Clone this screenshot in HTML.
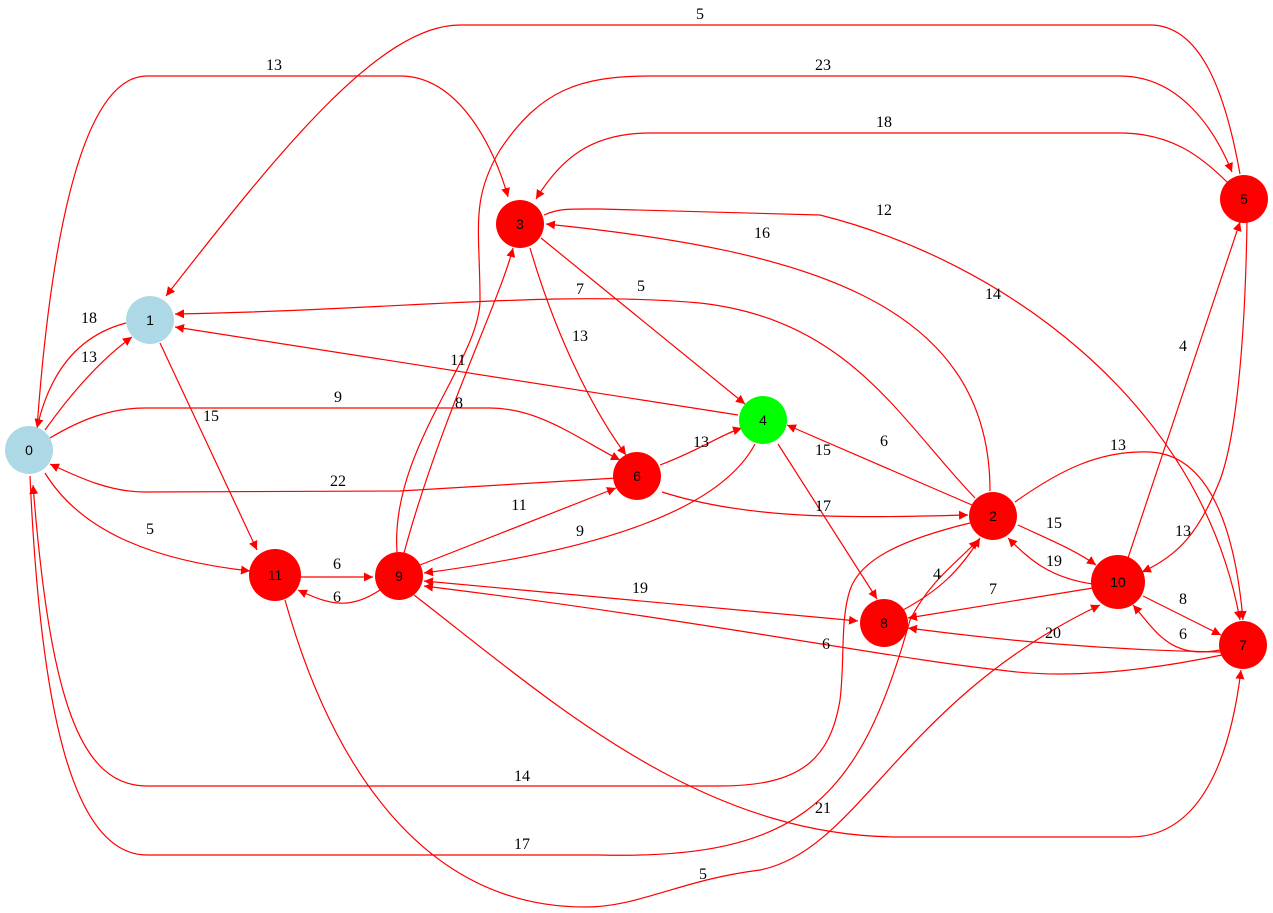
<!DOCTYPE html>
<html><head><meta charset="utf-8"><style>
html,body{margin:0;padding:0;background:#fff;}
svg{display:block}
.e{fill:none;stroke:#ff0000;stroke-width:1.2}
.l{font-family:"Liberation Serif",serif;font-size:16px;fill:#000;text-anchor:middle}
.n{font-family:"Liberation Sans",sans-serif;font-size:14px;fill:#000;text-anchor:middle}
</style></head><body>
<svg width="1273" height="913" viewBox="0 0 1273 913" xmlns="http://www.w3.org/2000/svg">
<defs>
<marker id="a" viewBox="0 0 10 10" refX="10" refY="5" markerWidth="9" markerHeight="9" markerUnits="userSpaceOnUse" orient="auto"><path d="M0,0 L10,5 L0,10 z" fill="#ff0000"/></marker>
<marker id="s" viewBox="0 0 10 10" refX="10" refY="5" markerWidth="9" markerHeight="9" markerUnits="userSpaceOnUse" orient="auto-start-reverse"><path d="M0,0 L10,5 L0,10 z" fill="#ff0000"/></marker>
</defs>
<g class="e" marker-end="url(#a)">
<path d="M37,428 C50,250 80,76 147,76 L400,76 C460,76 495,150 508,197"/>
<path d="M1240,174 C1225,90 1200,25 1150,25 L460,25 C380,25 280,150 166,296"/>
<path d="M397,552 C390,450 480,360 480,300 C480,230 470,200 500,150 C540,90 580,76 650,76 L1120,76 C1180,76 1215,130 1232,172"/>
<path d="M1228,183 C1200,155 1170,133 1120,133 L650,133 C590,133 560,160 536,199"/>
<path d="M544,215 C560,208 570,209 600,209 L820,215 C1000,260 1200,400 1240,620"/>
<path d="M990,491 C990,300 800,250 546,224"/>
<path d="M541,238 L745,404"/>
<path d="M530,248 C560,350 600,420 626,455"/>
<path d="M975,498 C900,420 850,320 700,303 C550,290 400,310 175,314"/>
<path d="M738,415 L175,327"/>
<path d="M126,323 C80,335 50,370 37,428"/>
<path d="M45,430 C70,395 100,360 132,337"/>
<path d="M160,343 L257,550"/>
<path d="M50,438 C80,420 110,408 145,408 L490,408 C540,408 580,440 620,460"/>
<path d="M617,478 L400,491 L145,492 C110,492 80,478 50,464"/>
<path d="M45,473 C80,530 150,560 250,571"/>
<path d="M660,465 C700,450 720,435 742,428"/>
<path d="M755,444 C720,510 600,550 424,573"/>
<path d="M778,444 L877,599"/>
<path d="M972,505 L787,425"/>
<path d="M662,492 C750,520 850,518 968,515"/>
<path d="M420,565 L616,488"/>
<path d="M404,553 C440,420 500,300 513,248"/>
<path d="M1015,502 C1060,470 1100,450 1150,452 C1210,455 1235,530 1243,620"/>
<path d="M1018,525 C1050,540 1075,550 1096,565"/>
<path d="M1093,584 C1050,578 1030,560 1008,538"/>
<path d="M1128,558 L1240,222"/>
<path d="M1247,222 C1245,350 1235,440 1220,480 C1200,530 1180,555 1142,572"/>
<path d="M1143,596 L1221,635"/>
<path d="M1220,650 C1170,660 1155,630 1133,605"/>
<path d="M1220,652 C1100,650 1000,640 908,628"/>
<path d="M1093,588 L908,618"/>
<path d="M903,610 C940,590 960,570 980,538"/>
<path d="M970,523 C900,540 860,560 850,590 C840,620 845,660 840,700 C830,760 800,786 720,786 L147,786 C80,786 50,700 33,485"/>
<path d="M30,476 C40,700 70,855 147,855 L600,855 C800,860 860,800 910,620 C930,580 960,560 978,540"/>
<path d="M297,577 L373,577"/>
<path d="M380,590 C350,610 330,605 298,590"/>
<path d="M424,581 L858,621" marker-start="url(#s)"/>
<path d="M1222,655 C1150,670 1070,680 1000,670 C900,660 700,620 424,586"/>
<path d="M414,595 C550,700 700,837 900,837 L1130,837 C1200,837 1230,760 1241,670"/>
<path d="M285,600 C330,760 420,907 585,907 C640,907 680,880 760,870 C860,850 900,700 1100,605"/>
</g>
<g class="l">
<text x="274" y="70">13</text><text x="700" y="19">5</text><text x="823" y="70">23</text><text x="884" y="127">18</text>
<text x="884" y="215">12</text><text x="762" y="238">16</text><text x="641" y="291">5</text><text x="580" y="341">13</text>
<text x="580" y="294">7</text><text x="993" y="299">14</text><text x="458" y="365">11</text><text x="89" y="323">18</text>
<text x="89" y="362">13</text><text x="211" y="421">15</text><text x="338" y="402">9</text><text x="338" y="486">22</text>
<text x="701" y="447">13</text><text x="580" y="536">9</text><text x="823" y="455">15</text><text x="884" y="446">6</text>
<text x="823" y="511">17</text><text x="519" y="510">11</text><text x="459" y="408">8</text><text x="1118" y="450">13</text>
<text x="1054" y="528">15</text><text x="1054" y="566">19</text><text x="1183" y="351">4</text><text x="1183" y="536">13</text>
<text x="1183" y="604">8</text><text x="1183" y="639">6</text><text x="993" y="594">7</text><text x="1053" y="638">20</text>
<text x="937" y="579">4</text><text x="522" y="781">14</text><text x="522" y="849">17</text><text x="337" y="569">6</text>
<text x="337" y="602">6</text><text x="640" y="593">19</text><text x="826" y="649">6</text><text x="823" y="813">21</text>
<text x="703" y="879">5</text><text x="150" y="534">5</text>
</g>
<g>
<circle cx="29" cy="450" r="24" fill="#add8e6"/><circle cx="150" cy="320" r="24" fill="#add8e6"/>
<circle cx="520" cy="224" r="24" fill="#ff0000"/><circle cx="763" cy="420" r="24" fill="#00ff00"/>
<circle cx="637" cy="476" r="24" fill="#ff0000"/><circle cx="993" cy="516" r="24" fill="#ff0000"/>
<circle cx="1244" cy="199" r="24" fill="#ff0000"/><circle cx="275" cy="575" r="26" fill="#ff0000"/>
<circle cx="399" cy="576" r="24" fill="#ff0000"/><circle cx="884" cy="623" r="24" fill="#ff0000"/>
<circle cx="1118" cy="582" r="27" fill="#ff0000"/><circle cx="1243" cy="645" r="24" fill="#ff0000"/>
</g>
<g class="n">
<text x="29" y="455">0</text><text x="150" y="325">1</text><text x="520" y="229">3</text><text x="763" y="425">4</text>
<text x="637" y="481">6</text><text x="993" y="521">2</text><text x="1244" y="204">5</text><text x="275" y="580">11</text>
<text x="399" y="581">9</text><text x="884" y="628">8</text><text x="1118" y="587">10</text><text x="1243" y="650">7</text>
</g>
</svg>
</body></html>
